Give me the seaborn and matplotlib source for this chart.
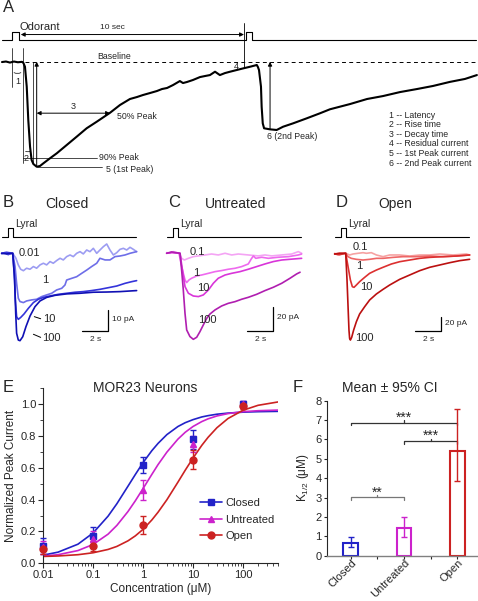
import numpy as np
import matplotlib
matplotlib.use('Agg')
import matplotlib.pyplot as plt
import matplotlib.ticker as mticker
import matplotlib.transforms as mtrans
from matplotlib.lines import Line2D
import seaborn as sns

# ---------------- panel A: example recording (time in s, current normalised to 1st peak)
A_TIME = [0.09, 0.27, 0.45, 0.63, 0.81, 1.00, 1.06, 1.13, 1.21, 1.28, 1.36, 1.43, 1.51, 1.66,
          1.81, 1.96, 2.26, 2.57, 3.02, 3.47, 3.92, 4.38, 4.98, 5.43, 5.88, 6.20, 6.47, 6.79,
          7.10, 7.33, 7.56, 7.83, 8.14, 8.28, 8.46, 8.73, 9.05, 9.28, 9.50, 9.73, 9.95, 10.18,
          10.41, 10.71, 11.01, 11.31, 11.62, 11.67, 11.72, 11.81, 11.84, 11.89, 11.95, 12.22,
          12.52, 12.81, 13.26, 13.88, 14.48, 14.93, 15.84, 16.61, 17.33, 18.10, 18.87, 19.59,
          20.36, 21.04, 21.58]
A_CURRENT = [-0.003, 0.002, -0.008, 0.002, -0.005, -0.001, -0.012, -0.048, -0.238, -0.555,
             -0.81, -0.936, -0.974, -1.0, -0.993, -0.968, -0.92, -0.872, -0.793, -0.714,
             -0.634, -0.571, -0.486, -0.412, -0.355, -0.336, -0.317, -0.298, -0.279, -0.26,
             -0.25, -0.222, -0.184, -0.203, -0.193, -0.174, -0.146, -0.136, -0.127, -0.095,
             -0.127, -0.108, -0.095, -0.079, -0.063, -0.048, -0.031, -0.05, -0.079, -0.238,
             -0.429, -0.587, -0.634, -0.644, -0.65, -0.619, -0.587, -0.539, -0.491, -0.453,
             -0.403, -0.355, -0.327, -0.289, -0.26, -0.231, -0.192, -0.164, -0.127]
A_STIM_T = [0.09, 0.53, 0.53, 0.86, 0.86, 11.12, 11.12, 11.39, 11.39, 21.54]
A_STIM_ON = [0, 0, 1, 1, 0, 0, 1, 1, 0, 0]
A_KEY = ['1 -- Latency', '2 -- Rise time', '3 -- Decay time', '4 -- Residual current',
         '5 -- 1st Peak current', '6 -- 2nd Peak current']

# ---------------- panels B-D: lyral dose responses (time s, current pA)
PANEL_TITLES = ['Closed', 'Untreated', 'Open']
PANEL_LETTERS = ['B', 'C', 'D']
DOSES = [['0.01', '1', '10', '100'], ['0.1', '1', '10', '100'], ['0.1', '1', '10', '100']]
SCALE_PA = [10, 20, 20]
STIM_T = [0.0, 0.5, 0.5, 0.85, 0.85, 10.3]
STIM_ON = [0, 0, 1, 1, 0, 0]

B_T = [
    [0, 0.26, 0.51, 0.64, 0.85, 1.10, 1.28, 1.46, 1.67, 1.92, 2.18, 2.44, 2.69, 2.95, 3.21,
     3.46, 3.72, 3.97, 4.23, 4.49, 4.74, 5.0, 5.26, 5.51, 5.77, 6.03, 6.28, 6.54, 6.79, 7.05,
     7.31, 7.56, 7.82, 8.08, 8.33, 8.59, 8.85, 9.10, 9.36, 9.62, 9.87, 10.13, 10.38],
    [0, 0.26, 0.51, 0.85, 1.03, 1.15, 1.28, 1.41, 1.67, 1.92, 2.31, 2.69, 3.08, 3.46, 3.85,
     4.23, 4.62, 4.87, 5.0, 5.38, 5.77, 6.15, 6.54, 6.92, 7.31, 7.56, 7.95, 8.33, 8.72, 9.10,
     9.49, 9.87, 10.38],
    [0, 0.38, 0.85, 0.97, 1.05, 1.15, 1.28, 1.46, 1.72, 2.05, 2.44, 2.82, 3.21, 3.72, 4.36,
     5.0, 5.64, 6.28, 6.92, 7.56, 8.21, 8.85, 9.49, 10.0, 10.38],
    [0, 0.38, 0.85, 1.0, 1.08, 1.15, 1.28, 1.41, 1.62, 1.87, 2.18, 2.56, 2.95, 3.46, 4.10,
     5.0, 6.03, 7.05, 8.08, 9.10, 9.87, 10.38]]
B_PA = [
    [-0.3, 0.3, -0.8, 0.3, 0, -2.4, -5.6, -7.7, -8.4, -7.2, -7.7, -6.4, -7.2, -5.6, -4.8,
     -5.6, -4.0, -4.8, -3.5, -2.4, -3.2, -1.6, -0.8, -1.6, 0, 0.8, -0.3, 1.6, 0.8, 2.4,
     0, 1.6, 3.2, 4.5, 1.6, -0.8, 0.3, 1.9, 2.4, 1.6, 2.9, 1.9, 0.8],
    [0, 0.3, -0.5, 0, -6.4, -14.5, -21.7, -23.3, -23.8, -23.0, -22.5, -22.2, -20.9, -20.1,
     -19.3, -17.7, -16.9, -15.3, -12.9, -12.1, -11.3, -9.7, -8.1, -6.4, -4.8, -2.4, -3.2,
     -3.2, -1.6, -1.3, -0.8, 0, 0.8],
    [0, 0.5, 0, -9.7, -22.5, -30.6, -31.9, -31.0, -29.3, -26.6, -23.8, -22.2, -21.3, -20.6,
     -19.8, -19.3, -18.8, -18.5, -18.0, -17.4, -16.6, -15.8, -14.5, -13.7, -13.2],
    [0, -0.3, 0, -12.9, -29.0, -38.6, -41.9, -42.2, -40.3, -35.4, -30.3, -25.8, -23.0,
     -21.3, -20.3, -19.6, -19.3, -18.8, -18.7, -18.5, -18.2, -18.0]]

C_T = [
    [0, 0.26, 0.51, 0.77, 0.95, 1.15, 1.36, 1.67, 2.05, 2.44, 2.95, 3.46, 3.97, 4.49, 5.0,
     5.51, 6.28, 7.05, 7.56, 8.08, 8.85, 9.62, 10.13, 10.38],
    [0, 0.38, 0.95, 1.10, 1.28, 1.41, 1.54, 1.72, 1.92, 2.31, 2.69, 3.21, 3.72, 4.23, 4.74,
     5.26, 5.77, 6.28, 6.49, 6.67, 6.85, 7.31, 7.82, 8.59, 9.36, 10.13, 10.38],
    [0, 0.38, 1.03, 1.21, 1.41, 1.67, 2.05, 2.44, 2.82, 3.21, 3.59, 3.97, 4.49, 5.0, 5.64,
     6.28, 6.92, 7.56, 8.21, 8.85, 9.49, 10.38],
    [0, 0.38, 1.03, 1.15, 1.28, 1.41, 1.54, 1.79, 2.05, 2.31, 2.56, 2.82, 3.08, 3.33, 3.72,
     4.23, 4.74, 5.26, 5.77, 6.28, 6.92, 7.56, 8.21, 8.85, 9.49, 10.0, 10.26]]
C_PA = [
    [0.6, 0, 1.4, 0.6, 0, -4.2, -5.6, -4.2, -2.8, -2.2, -1.4, -0.6, -1.4, 0, -1.4, -0.6,
     -1.4, -2.2, -1.4, -2.2, -1.4, -0.6, 1.4, 0],
    [0, 0.8, 0, -8.3, -16.7, -22.2, -24.4, -22.2, -20.8, -18.9, -18.1, -16.7, -15.3, -14.4,
     -13.3, -12.5, -11.1, -8.9, -5.0, -2.2, -4.2, -3.3, -4.2, -3.3, -2.8, -1.4, -0.6],
    [0, 0.6, 0, -13.9, -27.8, -33.3, -35.6, -36.1, -34.7, -30.6, -25.0, -20.8, -18.1, -16.7,
     -15.3, -13.3, -11.1, -8.9, -6.9, -5.6, -5.0, -4.2],
    [0, 1.1, 0, -13.9, -30.6, -50.0, -63.9, -69.4, -71.7, -70.0, -65.3, -59.7, -54.2, -50.6,
     -47.2, -43.9, -41.7, -40.3, -38.3, -36.7, -34.2, -31.1, -28.3, -25.0, -20.8, -17.2, -15.8]]

D_T = [
    [0, 0.26, 0.51, 0.85, 1.15, 1.41, 1.79, 2.18, 2.44, 2.82, 3.21, 3.72, 4.23, 5.0, 5.77,
     6.54, 7.31, 8.08, 9.10, 10.13, 10.38],
    [0, 0.38, 0.85, 1.03, 1.28, 1.67, 2.18, 2.69, 3.21, 3.72, 4.49, 5.26, 6.28, 7.31, 8.33,
     9.36, 10.38],
    [0, 0.38, 0.85, 1.03, 1.21, 1.36, 1.49, 1.67, 1.92, 2.31, 2.69, 3.21, 3.72, 4.36, 5.0,
     5.77, 6.54, 7.31, 8.33, 9.36, 10.38],
    [0, 0.38, 0.85, 0.95, 1.03, 1.10, 1.15, 1.21, 1.31, 1.46, 1.67, 1.92, 2.31, 2.69, 3.21,
     3.72, 4.23, 5.0, 5.77, 6.54, 7.31, 8.08, 8.85, 9.62, 10.38]]
D_PA = [
    [1.0, -1.4, 0, 1.0, -1.4, 0, 1.0, 1.9, 1.0, 1.9, -1.4, -3.8, -1.4, -1.4, -2.9, -1.4,
     -1.4, 0, -1.4, 0, -1.4],
    [0, 1.0, 1.0, -3.8, -6.2, -7.6, -8.6, -7.6, -6.2, -6.2, -4.8, -3.8, -3.8, -2.9, -3.8,
     -2.9, -1.4],
    [0, -1.0, 1.0, -18.1, -37.1, -46.7, -47.6, -44.3, -39.5, -33.3, -27.6, -22.9, -19.0,
     -14.3, -11.0, -8.6, -6.2, -4.8, -3.8, -2.9, -1.4],
    [0, 1.0, 1.0, -37.1, -75.2, -108.6, -120.5, -122.9, -119.0, -108.6, -96.7, -85.7, -75.2,
     -65.7, -57.1, -50.5, -44.3, -36.2, -30.0, -23.8, -19.0, -15.7, -12.4, -9.5, -7.6]]

# dose label anchor points (time s, current pA)
LABEL_T = [[1.28, 3.08, 3.2, 3.08], [1.79, 2.05, 2.31, 2.44], [1.41, 1.67, 1.92, 1.54]]
LABEL_PA = [[0, -12.9, -31.7, -41.1], [1.4, -16.1, -29.2, -55.6], [9.5, -17.1, -46.7, -119.5]]

TRACE_COLORS = [['#9c9cf2', '#6e6ee8', '#3434da', '#1010b4'],
                ['#f4a4f4', '#ee6aee', '#d935d9', '#b01eb0'],
                ['#f6a2a2', '#ee6666', '#dc3030', '#bb1010']]

# ---------------- panel E: dose-response (mean +/- sem) and fitted curves
CONC = [0.01, 0.1, 1, 10, 100]
CLOSED_MEAN = [0.11, 0.17, 0.62, 0.78, 1.0]
CLOSED_ERR = [0.05, 0.06, 0.05, 0.06, 0.02]
UNTREATED_MEAN = [0.10, 0.15, 0.46, 0.75, 1.0]
UNTREATED_ERR = [0.04, 0.05, 0.06, 0.05, 0.02]
OPEN_MEAN = [0.09, 0.11, 0.24, 0.65, 0.99]
OPEN_ERR = [0.03, 0.03, 0.055, 0.06, 0.02]
FIT_CONC = [0.01, 0.02, 0.05, 0.1, 0.2, 0.3, 0.5, 0.7, 1, 1.5, 2, 3, 5, 7, 10, 15, 20, 30,
            50, 100, 200, 500]
FIT_CLOSED = [0.051, 0.070, 0.120, 0.190, 0.296, 0.374, 0.484, 0.557, 0.632, 0.707, 0.753,
              0.808, 0.859, 0.883, 0.902, 0.919, 0.927, 0.936, 0.943, 0.949, 0.952, 0.954]
FIT_UNTREATED = [0.045, 0.054, 0.080, 0.118, 0.183, 0.238, 0.325, 0.392, 0.469, 0.558, 0.620,
                 0.698, 0.780, 0.823, 0.859, 0.890, 0.907, 0.925, 0.940, 0.952, 0.958, 0.962]
FIT_OPEN = [0.043, 0.046, 0.054, 0.066, 0.087, 0.106, 0.141, 0.172, 0.213, 0.272, 0.321,
            0.399, 0.510, 0.585, 0.661, 0.741, 0.791, 0.851, 0.909, 0.961, 0.992, 1.013]

# ---------------- panel F: K1/2 with 95% CI
GROUPS = ['Closed', 'Untreated', 'Open']
K_HALF = [0.67, 1.41, 5.41]
CI_LOW = [0.43, 0.98, 3.85]
CI_HIGH = [0.98, 2.01, 7.55]

BLUE, MAGENTA, RED = '#2222c8', '#cc22cc', '#cc2222'
GROUP_COLORS = [BLUE, MAGENTA, RED]

sns.set_style('ticks')
plt.rcParams['font.family'] = ['Liberation Sans', 'DejaVu Sans']
plt.rcParams['mathtext.fontset'] = 'custom'
plt.rcParams['mathtext.rm'] = 'Liberation Sans'

W, H = 478, 601
fig = plt.figure(figsize=(W / 100, H / 100), dpi=100)


def px_box(x, y, w, h):
    return [x / W, 1 - (y + h) / H, w / W, h / H]


def fig_text(x, y, s, **kw):
    fig.text(x / W, 1 - y / H, s, **kw)


# =============== A
axA = fig.add_axes(px_box(0, 0, 478, 200))
axA.axis('off')
axA.set_xlim(0, 21.63)
axA.set_ylim(-1.317, 0.588)
axA.plot(A_STIM_T, 0.21 + 0.07 * np.array(A_STIM_ON), color='k', lw=0.8)
sns.lineplot(x=A_TIME, y=A_CURRENT, ax=axA, color='k', lw=1.5, sort=False, estimator=None)
axA.plot([1.13, 21.63], [0, 0], color='k', lw=0.7, ls=(0, (4, 3.4)))

arrow = dict(color='k', lw=0.7, mutation_scale=6, shrinkA=0, shrinkB=0)
axA.annotate('', xy=(0.94, 0.259), xytext=(11.04, 0.259), arrowprops=dict(arrowstyle='<|-|>', **arrow))
axA.text(0.9, 0.333, 'Odorant', fontsize=8, va='center')
axA.text(5.07, 0.33, '10 sec', fontsize=6, ha='center', va='center')
axA.plot([11.05, 11.05], [0.369, -0.048], color='k', lw=0.6)
axA.text(4.39, 0.054, 'Baseline', fontsize=6.3, va='center')
axA.text(10.68, -0.045, '4', fontsize=6.5, ha='center', va='center')

# latency / rise markers
axA.plot([0.53, 0.53], [0.128, -0.238], color='k', lw=0.5)
axA.plot([1.05, 1.05], [0.128, -0.968], color='k', lw=0.5)
axA.plot([1.48, 1.48], [0, -0.968], color='k', lw=0.5)
axA.annotate('', xy=(0.53, -0.09), xytext=(1.05, -0.09),
             arrowprops=dict(arrowstyle='-', lw=0.5, color='k', connectionstyle='arc3,rad=-0.4'))
axA.text(0.81, -0.19, '1', fontsize=6.5, ha='center', va='center')
axA.annotate('', xy=(1.05, -0.84), xytext=(1.48, -0.84),
             arrowprops=dict(arrowstyle='-', lw=0.5, color='k', connectionstyle='arc3,rad=-0.4'))
axA.text(1.18, -0.92, '2', fontsize=6.5, ha='center', va='center')

# peak / decay arrows
axA.annotate('', xy=(1.66, 0), xytext=(1.66, -1.0), arrowprops=dict(arrowstyle='-|>', **arrow))
axA.annotate('', xy=(1.66, -0.49), xytext=(4.98, -0.49), arrowprops=dict(arrowstyle='<|-|>', **arrow))
axA.text(3.3, -0.43, '3', fontsize=6.5, ha='center', va='center')
axA.text(5.3, -0.52, '50% Peak', fontsize=6.3, va='center')
axA.plot([1.05, 4.39], [-0.92, -0.92], color='k', lw=0.5)
axA.text(4.5, -0.91, '90% Peak', fontsize=6.3, va='center')
axA.plot([1.66, 4.62], [-1.0, -1.0], color='k', lw=0.5)
axA.text(4.8, -1.03, '5 (1st Peak)', fontsize=6.3, va='center')
axA.annotate('', xy=(12.22, 0), xytext=(12.22, -0.64), arrowprops=dict(arrowstyle='-|>', **arrow))
axA.text(12.08, -0.714, '6 (2nd Peak)', fontsize=6.3, va='center')
for i, s in enumerate(A_KEY):
    axA.text(17.6, -0.508 - 0.0915 * i, s, fontsize=6.3, va='center')
fig_text(3, 8, 'A', fontsize=12, va='center')

# =============== B-D
all_t = [B_T, C_T, D_T]
all_pa = [B_PA, C_PA, D_PA]
ylims = [(-46.7, 18.5), (-80.6, 31.9), (-137.1, 55.7)]
lefts = [0, 165, 333]
title_x = [66.5, 236, 395]
for p in range(3):
    ax = fig.add_axes(px_box(lefts[p], 215, 140, 135))
    ax.axis('off')
    ax.set_xlim(-0.128, 10.64)
    ax.set_ylim(*ylims[p])
    tr = ax.get_xaxis_transform()
    ax.plot(STIM_T, 0.837 + 0.067 * np.array(STIM_ON), color='k', lw=0.8, transform=tr)
    ax.text(1.0, 0.933, 'Lyral', fontsize=7.5, va='center', transform=tr)
    for k in range(4):
        sns.lineplot(x=all_t[p][k], y=all_pa[p][k], ax=ax, color=TRACE_COLORS[p][k],
                     lw=1.2, sort=False, estimator=None)
        ax.text(LABEL_T[p][k], LABEL_PA[p][k], DOSES[p][k], fontsize=8, va='center')
    if p == 0:
        ax.plot([2.51, 3.0], [-30.6, -31.6], color='k', lw=0.7)
        ax.plot([2.44, 3.0], [-39.1, -40.6], color='k', lw=0.7)
    y0 = ylims[p][0] + 0.141 * (ylims[p][1] - ylims[p][0])
    ax.plot([6.2, 8.2, 8.2], [y0, y0, y0 + SCALE_PA[p]], color='k', lw=0.9)
    ax.text(8.45, y0 + SCALE_PA[p] * 0.55, f'{SCALE_PA[p]} pA', fontsize=6, va='center')
    ax.annotate('2 s', xy=(7.2, y0), xytext=(0, -6), textcoords='offset points',
                fontsize=6, ha='center', va='center')
    fig_text(lefts[p] + 3, 203, PANEL_LETTERS[p], fontsize=12, va='center')
    fig_text(title_x[p], 204, PANEL_TITLES[p], fontsize=10, ha='center', va='center')

# =============== E
axE = fig.add_axes(px_box(43, 388.1, 235, 175.2))
for fit, c in zip([FIT_CLOSED, FIT_UNTREATED, FIT_OPEN], GROUP_COLORS):
    sns.lineplot(x=FIT_CONC, y=fit, ax=axE, color=c, lw=1.2, sort=False, estimator=None)
for m, e, c, mk in zip([CLOSED_MEAN, UNTREATED_MEAN, OPEN_MEAN],
                       [CLOSED_ERR, UNTREATED_ERR, OPEN_ERR], GROUP_COLORS, ['s', '^', 'o']):
    axE.errorbar(CONC, m, yerr=e, fmt=mk, color=c, ms=5, capsize=2.5, elinewidth=1,
                 capthick=1, clip_on=False, zorder=5)
axE.set_xscale('log')
axE.set_xlim(0.01, 500)
axE.set_ylim(0, 1.1)
axE.set_xticks(CONC)
axE.set_xticklabels(['0.01', '0.1', '1', '10', '100'])
axE.xaxis.set_minor_locator(mticker.LogLocator(base=10, subs=np.arange(2, 10)))
axE.xaxis.set_minor_formatter(mticker.NullFormatter())
axE.yaxis.set_major_locator(mticker.MultipleLocator(0.2))
axE.yaxis.set_minor_locator(mticker.MultipleLocator(0.1))
axE.yaxis.set_major_formatter(mticker.FormatStrFormatter('%.1f'))
axE.tick_params(which='major', direction='out', length=3.5, width=0.8, pad=1.5, labelsize=8)
axE.tick_params(which='minor', direction='out', length=2, width=0.6)
for s in axE.spines.values():
    s.set_linewidth(0.8)
sns.despine(ax=axE)
axE.set_xlabel('Concentration (μM)', fontsize=8.5, labelpad=2)
axE.set_ylabel('Normalized Peak Current', fontsize=8.5, labelpad=3)
handles = [Line2D([], [], color=c, marker=mk, ms=5, lw=1.2) for c, mk in zip(GROUP_COLORS, ['s', '^', 'o'])]
axE.legend(handles, GROUPS, loc='upper left', bbox_to_anchor=(200 / W, 1 - 498 / H),
           bbox_transform=fig.transFigure, frameon=False, fontsize=8, handlelength=2.0,
           handletextpad=0.3, labelspacing=0.6, borderpad=0, borderaxespad=0)
fig_text(3, 388, 'E', fontsize=12, va='center')
fig_text(145, 388, 'MOR23 Neurons', fontsize=10, ha='center', va='center')

# =============== F
axF = fig.add_axes(px_box(327, 400.5, 151, 155.2))
sns.barplot(x=GROUPS, y=K_HALF, hue=GROUPS, palette=GROUP_COLORS, fill=False, width=0.28,
            linewidth=1.5, ax=axF, legend=False, errorbar=None)
for i in range(3):
    axF.errorbar(i, K_HALF[i], yerr=[[K_HALF[i] - CI_LOW[i]], [CI_HIGH[i] - K_HALF[i]]],
                 color=GROUP_COLORS[i], capsize=2, elinewidth=1, capthick=1, zorder=5)
axF.set_xlim(-0.445, 2.39)
axF.set_ylim(0, 8)
axF.yaxis.set_major_locator(mticker.MultipleLocator(1))
axF.xaxis.set_minor_locator(mticker.FixedLocator([0.5, 1.5]))
axF.tick_params(which='major', direction='out', length=2.5, width=0.8, pad=1.5, labelsize=8)
axF.tick_params(which='minor', direction='out', length=2, width=0.8)
sns.despine(ax=axF)
axF.spines['left'].set_linewidth(0.8)
axF.spines['bottom'].set_color('#808080')
axF.spines['bottom'].set_linewidth(1.0)
axF.set_xlabel('')
axF.set_ylabel('K$_{1/2}$ (μM)', fontsize=8.5, labelpad=3)
offset = mtrans.ScaledTranslation(3 / 72, 0, fig.dpi_scale_trans)
for lab in axF.get_xticklabels():
    lab.set_rotation(45)
    lab.set_ha('right')
    lab.set_va('center')
    lab.set_rotation_mode('anchor')
    lab.set_transform(lab.get_transform() + offset)

for (x0, x1, y, col, stars) in [(0, 2, 6.86, '#333333', '***'), (1, 2, 5.91, '#333333', '***'),
                                (0, 1, 3.01, '#777777', '**')]:
    axF.plot([x0, x0, x1, x1], [y - 0.13, y, y, y - 0.13], color=col, lw=0.9)
    axF.plot([(x0 + x1) / 2] * 2, [y, y + 0.12], color=col, lw=0.9)
    axF.text((x0 + x1) / 2, y + 0.05, stars, fontsize=10, ha='center', va='baseline')
fig_text(293, 388, 'F', fontsize=12, va='center')
fig_text(390, 388, 'Mean ± 95% CI', fontsize=10, ha='center', va='center')

fig.savefig('out.png', dpi=100)
